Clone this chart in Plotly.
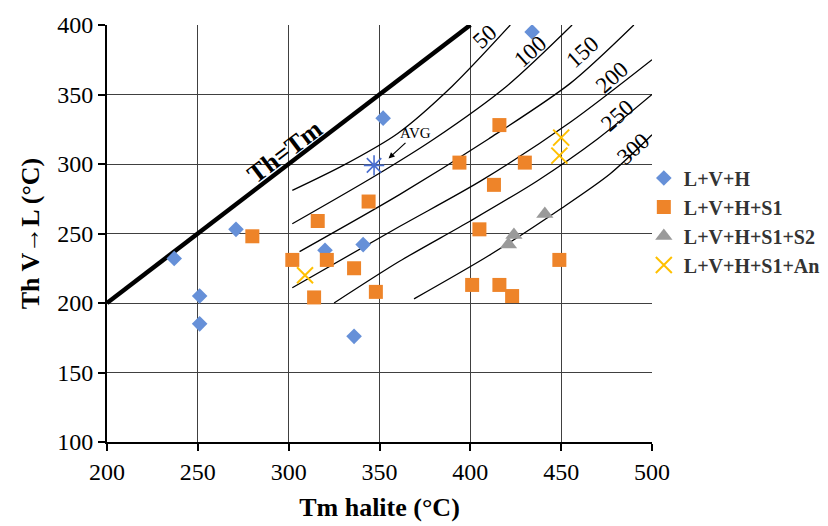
import plotly.graph_objects as go

# ---- data ----
lvh_x = [237, 251, 251, 271, 320, 341, 336, 352, 434]
lvh_y = [232, 205, 185, 253, 238, 242, 176, 333, 395]

s1_x = [280, 302, 316, 321, 314, 336, 344, 348, 394, 401, 405, 413, 416, 416, 423, 430, 449]
s1_y = [248, 231, 259, 231, 204, 225, 273, 208, 301, 213, 253, 285, 213, 328, 205, 301, 231]

s2_x = [421, 424, 441]
s2_y = [242, 249, 264]

an_x = [309, 450, 449]
an_y = [220, 319, 306]

avg_x = [347]
avg_y = [299]

thtm_x = [200, 400]
thtm_y = [200, 400]

iso_labels = ["50", "100", "150", "200", "250", "300"]
iso_x = [
    [302, 330, 360, 390, 422],
    [302, 347, 380, 420, 456],
    [306, 361, 410, 455, 490],
    [302, 361, 406, 455, 500],
    [325, 361, 400, 437, 470, 500],
    [369, 410, 450, 477, 500],
]
iso_y = [
    [281, 299, 322, 356, 400],
    [257, 291, 318, 356, 400],
    [237, 278, 318, 358, 400],
    [211, 255, 288, 330, 375],
    [200, 230, 259, 288, 318, 350],
    [203, 234, 268, 293, 321],
]
iso_lab_x = [408, 433, 462, 478, 481, 490]
iso_lab_y = [392, 381, 381, 362, 335, 311]

x_ticks = [200, 250, 300, 350, 400, 450, 500]
y_ticks = [100, 150, 200, 250, 300, 350, 400]

FONT = "Liberation Serif"

fig = go.Figure()

# Th = Tm line
fig.add_trace(go.Scatter(x=thtm_x, y=thtm_y, mode="lines",
                         line=dict(color="black", width=4.5), showlegend=False, hoverinfo="skip"))

# isobars
for xs, ys in zip(iso_x, iso_y):
    fig.add_trace(go.Scatter(x=xs, y=ys, mode="lines",
                             line=dict(color="black", width=1.3, shape="spline", smoothing=0.8),
                             showlegend=False, hoverinfo="skip"))

fig.add_trace(go.Scatter(x=lvh_x, y=lvh_y, mode="markers", name="<b>L+V+H</b>",
                         marker=dict(symbol="diamond", size=12, color="#6690D8")))
fig.add_trace(go.Scatter(x=s1_x, y=s1_y, mode="markers", name="<b>L+V+H+S1</b>",
                         marker=dict(symbol="square", size=14, color="#EE8429")))
fig.add_trace(go.Scatter(x=s2_x, y=s2_y, mode="markers", name="<b>L+V+H+S1+S2</b>",
                         marker=dict(symbol="triangle-up", size=15, color="#9A9A9A")))
fig.add_trace(go.Scatter(x=an_x, y=an_y, mode="markers", name="<b>L+V+H+S1+An</b>",
                         marker=dict(symbol="x-thin-open", size=16,
                                     line=dict(color="#FFC000", width=2), color="#FFC000")))
fig.add_trace(go.Scatter(x=avg_x, y=avg_y, mode="markers", showlegend=False,
                         marker=dict(symbol="asterisk-open", size=17, color="#4A6FD0",
                                     line=dict(color="#4A6FD0", width=1.6))))

# labels
for lab, lx, ly in zip(iso_labels, iso_lab_x, iso_lab_y):
    fig.add_annotation(x=lx, y=ly, text=lab, showarrow=False, textangle=-42,
                       font=dict(family=FONT, size=23, color="black"))

fig.add_annotation(x=298, y=309, text="<b>Th=Tm</b>", showarrow=False, textangle=-37,
                   font=dict(family=FONT, size=26, color="black"))

fig.add_annotation(x=355, y=304, ax=370, ay=322, axref="x", ayref="y",
                   text="AVG", showarrow=True, arrowhead=2, arrowsize=1, arrowwidth=1.2,
                   arrowcolor="black", standoff=0,
                   font=dict(family=FONT, size=15, color="black"))

axis_common = dict(showline=True, linecolor="black", linewidth=2, mirror=False,
                   showgrid=True, gridcolor="#404040", gridwidth=1,
                   ticks="outside", tickcolor="black", tickwidth=2, ticklen=7,
                   zeroline=False, tickfont=dict(family=FONT, size=24, color="black"))

fig.update_xaxes(range=[200, 500], tickvals=x_ticks,
                 title=dict(text="<b>Tm halite (°C)</b>", font=dict(family=FONT, size=26, color="black"),
                            standoff=14),
                 **axis_common)
fig.update_yaxes(range=[100, 400], tickvals=y_ticks,
                 title=dict(text="<b>Th V→L (°C)</b>", font=dict(family=FONT, size=26, color="black"),
                            standoff=10),
                 **axis_common)

fig.update_layout(
    width=828, height=526,
    margin=dict(l=107, r=176, t=25, b=84, autoexpand=False),
    plot_bgcolor="white", paper_bgcolor="white",
    legend=dict(x=0.985, y=0.68, xanchor="left", yanchor="top",
                font=dict(family=FONT, size=20, color="#333"), bgcolor="rgba(0,0,0,0)",
                itemwidth=30, tracegroupgap=0),
    showlegend=True,
)

fig.write_html("out.html")
